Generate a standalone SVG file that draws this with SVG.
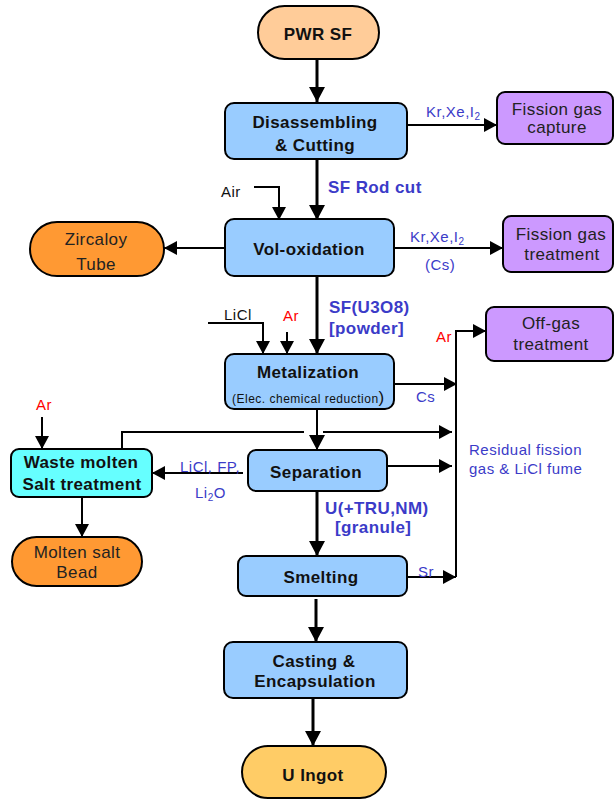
<svg xmlns="http://www.w3.org/2000/svg" width="615" height="800" viewBox="0 0 615 800">
<style>
text{font-family:"Liberation Sans",Arial,sans-serif;}
.box{stroke:#000;stroke-width:2;}
.proc{fill:#99CCFF;}
.gas{fill:#CC99FF;}
.orange{fill:#FF9933;}
.nt{font-size:17px;font-weight:bold;fill:#111;letter-spacing:0.4px;text-anchor:middle;}
.nr{font-size:17px;fill:#222;letter-spacing:0.4px;text-anchor:middle;}
.bl{font-size:15px;fill:#3B3BC8;letter-spacing:0.5px;}
.bb{font-size:17px;font-weight:bold;fill:#3B3BC8;letter-spacing:0.4px;}
.k{font-size:15px;fill:#111;letter-spacing:0.5px;}
.r{font-size:15px;fill:#FF0000;letter-spacing:0.5px;}
.ln{fill:none;stroke:#000;stroke-width:2;}
.lt{fill:none;stroke:#000;stroke-width:3;}
</style>
<defs>
<marker id="ah" markerWidth="14" markerHeight="14" refX="13" refY="7" orient="auto" markerUnits="userSpaceOnUse"><path d="M0,0 L13,7 L0,14 z" fill="#000"/></marker>
<marker id="ahb" markerWidth="16" markerHeight="16" refX="15" refY="8" orient="auto" markerUnits="userSpaceOnUse"><path d="M0,0 L15,8 L0,16 z" fill="#000"/></marker>
</defs>

<g id="connectors">
<line class="lt" x1="317" y1="60" x2="317" y2="102" marker-end="url(#ahb)"/>
<line class="ln" x1="407" y1="125" x2="497" y2="125" marker-end="url(#ah)"/>
<line class="lt" x1="317" y1="159" x2="317" y2="220" marker-end="url(#ahb)"/>
<path class="ln" d="M254,187 H279 V220" marker-end="url(#ah)"/>
<line class="ln" x1="225" y1="248" x2="164" y2="248" marker-end="url(#ah)"/>
<line class="ln" x1="394" y1="248" x2="503" y2="248" marker-end="url(#ah)"/>
<line class="lt" x1="317" y1="276" x2="317" y2="354" marker-end="url(#ahb)"/>
<path class="ln" d="M208,323 H263 V354" marker-end="url(#ah)"/>
<line class="ln" x1="287" y1="332" x2="287" y2="354" marker-end="url(#ah)"/>
<line class="ln" x1="394" y1="384" x2="457" y2="384" marker-end="url(#ah)"/>
<path class="ln" d="M456,577 V331 H486" marker-end="url(#ah)"/>
<line class="ln" x1="317" y1="409" x2="317" y2="450" marker-end="url(#ahb)"/>
<path class="ln" d="M122,449 V432 H304"/>
<line class="ln" x1="323" y1="432" x2="452" y2="432" marker-end="url(#ah)"/>
<line class="ln" x1="243" y1="473" x2="152" y2="473" marker-end="url(#ah)"/>
<line class="ln" x1="387" y1="466" x2="452" y2="466" marker-end="url(#ah)"/>
<line class="ln" x1="42" y1="417" x2="42" y2="449" marker-end="url(#ah)"/>
<line class="lt" x1="317" y1="491" x2="317" y2="556" marker-end="url(#ahb)"/>
<line class="ln" x1="82" y1="497" x2="82" y2="537" marker-end="url(#ah)"/>
<line class="ln" x1="407" y1="577" x2="456" y2="577" marker-end="url(#ah)"/>
<line class="lt" x1="316" y1="599" x2="316" y2="642" marker-end="url(#ahb)"/>
<line class="lt" x1="313" y1="698" x2="313" y2="746" marker-end="url(#ahb)"/>
</g>

<g id="pwr-sf">
<rect class="box" x="258" y="6" width="121" height="53" rx="26.5" fill="#FFCC99"/>
<text class="nt" x="318" y="40">PWR SF</text>
</g>

<g id="disassembling">
<rect class="box proc" x="225" y="103" width="182" height="56" rx="9"/>
<text class="nt" x="315" y="128">Disassembling</text>
<text class="nt" x="315" y="151">&amp; Cutting</text>
</g>

<g id="fission-gas-capture">
<rect class="box gas" x="497" y="92" width="116" height="52" rx="8"/>
<text class="nr" x="557" y="115">Fission gas</text>
<text class="nr" x="557" y="133">capture</text>
</g>

<g id="vol-oxidation">
<rect class="box proc" x="225" y="219" width="169" height="57" rx="9"/>
<text class="nt" x="309" y="255">Vol-oxidation</text>
</g>

<g id="zircaloy-tube">
<rect class="box orange" x="30" y="222" width="134" height="54" rx="27"/>
<text class="nr" x="96" y="245">Zircaloy</text>
<text class="nr" x="96" y="270">Tube</text>
</g>

<g id="fission-gas-treatment">
<rect class="box gas" x="503" y="216" width="110" height="56" rx="8"/>
<text class="nr" x="561" y="240">Fission gas</text>
<text class="nr" x="562" y="260">treatment</text>
</g>

<g id="metalization">
<rect class="box proc" x="225" y="354" width="169" height="55" rx="9"/>
<text class="nt" x="308" y="378">Metalization</text>
<text x="232" y="403" style="font-size:12px;fill:#111;letter-spacing:0.5px">(Elec. chemical reduction<tspan style="font-size:17px">)</tspan></text>
</g>

<g id="off-gas-treatment">
<rect class="box gas" x="486" y="307" width="127" height="54" rx="8"/>
<text class="nr" x="551" y="329">Off-gas</text>
<text class="nr" x="551" y="350">treatment</text>
</g>

<g id="separation">
<rect class="box proc" x="248" y="450" width="139" height="41" rx="8"/>
<text class="nt" x="316" y="478">Separation</text>
</g>

<g id="waste-molten-salt">
<rect class="box" x="11" y="449" width="141" height="48" rx="8" fill="#66FFFF"/>
<text class="nt" x="81" y="468">Waste molten</text>
<text class="nt" x="82" y="490">Salt treatment</text>
</g>

<g id="molten-salt-bead">
<rect class="box orange" x="12" y="537" width="130" height="49" rx="24.5"/>
<text class="nr" x="77" y="558">Molten salt</text>
<text class="nr" x="77" y="578">Bead</text>
</g>

<g id="smelting">
<rect class="box proc" x="238" y="556" width="169" height="40" rx="8"/>
<text class="nt" x="321" y="583">Smelting</text>
</g>

<g id="casting">
<rect class="box proc" x="224" y="642" width="183" height="56" rx="9"/>
<text class="nt" x="314" y="667">Casting &amp;</text>
<text class="nt" x="315" y="687">Encapsulation</text>
</g>

<g id="u-ingot">
<rect class="box" x="242" y="746" width="144" height="52" rx="26" fill="#FFCC66"/>
<text class="nt" x="313" y="781">U Ingot</text>
</g>

<g id="labels">
<text class="bl" x="426" y="117">Kr,Xe,I<tspan style="font-size:10px" dy="3">2</tspan></text>
<text class="bb" x="328" y="193">SF Rod cut</text>
<text class="k" x="221" y="197">Air</text>
<text class="bl" x="410" y="242">Kr,Xe,I<tspan style="font-size:10px" dy="3">2</tspan></text>
<text class="bl" x="425" y="270">(Cs)</text>
<text class="k" x="224" y="320">LiCl</text>
<text class="r" x="283" y="321">Ar</text>
<text class="bb" x="329" y="313">SF(U3O8)</text>
<text class="bb" x="329" y="334">[powder]</text>
<text class="bl" x="416" y="402">Cs</text>
<text class="r" x="436" y="342">Ar</text>
<text class="r" x="36" y="410">Ar</text>
<text class="bl" x="180" y="472">LiCl, FP,</text>
<text class="bl" x="195" y="498">Li<tspan style="font-size:10px" dy="3">2</tspan><tspan dy="-3">O</tspan></text>
<text class="bl" x="469" y="455">Residual fission</text>
<text class="bl" x="469" y="474">gas &amp; LiCl fume</text>
<text class="bb" x="325" y="514">U(+TRU,NM)</text>
<text class="bb" x="335" y="533">[granule]</text>
<text class="bl" x="418" y="577">Sr</text>
</g>
</svg>
